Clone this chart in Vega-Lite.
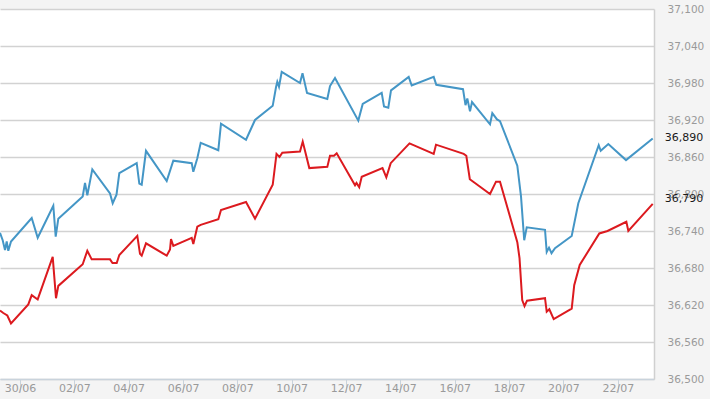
{
  "$schema": "https://vega.github.io/schema/vega-lite/v6.json",
  "autosize": "none",
  "width": 654,
  "height": 370,
  "padding": {"top": 9, "left": 0, "right": 56, "bottom": 20},
  "background": "#f4f4f4",
  "config": {
    "view": {"fill": "white", "stroke": null},
    "font": "DejaVu Sans"
  },
  "datasets": {
    "prices": [
      {"s":"Upper","t":"2023-06-29T06:20","v":36737},
      {"s":"Upper","t":"2023-06-29T08:43","v":36725},
      {"s":"Upper","t":"2023-06-29T10:45","v":36709},
      {"s":"Upper","t":"2023-06-29T12:15","v":36723},
      {"s":"Upper","t":"2023-06-29T13:40","v":36708},
      {"s":"Upper","t":"2023-06-29T16:03","v":36723},
      {"s":"Upper","t":"2023-06-30T10:20","v":36761},
      {"s":"Upper","t":"2023-06-30T15:38","v":36729},
      {"s":"Upper","t":"2023-07-01T05:25","v":36781},
      {"s":"Upper","t":"2023-07-01T07:32","v":36731},
      {"s":"Upper","t":"2023-07-01T09:50","v":36760},
      {"s":"Upper","t":"2023-07-02T07:23","v":36796},
      {"s":"Upper","t":"2023-07-02T09:25","v":36818},
      {"s":"Upper","t":"2023-07-02T11:27","v":36798},
      {"s":"Upper","t":"2023-07-02T15:52","v":36840},
      {"s":"Upper","t":"2023-07-03T07:30","v":36801},
      {"s":"Upper","t":"2023-07-03T09:53","v":36785},
      {"s":"Upper","t":"2023-07-03T13:14","v":36799},
      {"s":"Upper","t":"2023-07-03T15:43","v":36834},
      {"s":"Upper","t":"2023-07-04T07:05","v":36850},
      {"s":"Upper","t":"2023-07-04T09:23","v":36817},
      {"s":"Upper","t":"2023-07-04T11:30","v":36815},
      {"s":"Upper","t":"2023-07-04T15:18","v":36870},
      {"s":"Upper","t":"2023-07-05T09:35","v":36821},
      {"s":"Upper","t":"2023-07-05T15:25","v":36854},
      {"s":"Upper","t":"2023-07-06T07:40","v":36850},
      {"s":"Upper","t":"2023-07-06T09:05","v":36836},
      {"s":"Upper","t":"2023-07-06T12:37","v":36858},
      {"s":"Upper","t":"2023-07-06T15:37","v":36883},
      {"s":"Upper","t":"2023-07-07T07:10","v":36871},
      {"s":"Upper","t":"2023-07-07T09:32","v":36914},
      {"s":"Upper","t":"2023-07-08T07:38","v":36888},
      {"s":"Upper","t":"2023-07-08T15:35","v":36920},
      {"s":"Upper","t":"2023-07-09T07:13","v":36943},
      {"s":"Upper","t":"2023-07-09T10:07","v":36973},
      {"s":"Upper","t":"2023-07-09T11:16","v":36982},
      {"s":"Upper","t":"2023-07-09T12:46","v":36974},
      {"s":"Upper","t":"2023-07-09T15:10","v":36998},
      {"s":"Upper","t":"2023-07-10T07:19","v":36980},
      {"s":"Upper","t":"2023-07-10T09:32","v":36996},
      {"s":"Upper","t":"2023-07-10T13:31","v":36964},
      {"s":"Upper","t":"2023-07-11T07:26","v":36954},
      {"s":"Upper","t":"2023-07-11T09:49","v":36975},
      {"s":"Upper","t":"2023-07-11T14:14","v":36988},
      {"s":"Upper","t":"2023-07-12T10:49","v":36919},
      {"s":"Upper","t":"2023-07-12T14:43","v":36946},
      {"s":"Upper","t":"2023-07-13T07:29","v":36964},
      {"s":"Upper","t":"2023-07-13T09:31","v":36942},
      {"s":"Upper","t":"2023-07-13T13:19","v":36940},
      {"s":"Upper","t":"2023-07-13T15:42","v":36968},
      {"s":"Upper","t":"2023-07-14T07:20","v":36990},
      {"s":"Upper","t":"2023-07-14T09:59","v":36976},
      {"s":"Upper","t":"2023-07-15T05:25","v":36990},
      {"s":"Upper","t":"2023-07-15T07:43","v":36977},
      {"s":"Upper","t":"2023-07-16T07:18","v":36970},
      {"s":"Upper","t":"2023-07-16T09:31","v":36944},
      {"s":"Upper","t":"2023-07-16T11:06","v":36955},
      {"s":"Upper","t":"2023-07-16T13:29","v":36934},
      {"s":"Upper","t":"2023-07-16T15:15","v":36949},
      {"s":"Upper","t":"2023-07-17T07:09","v":36913},
      {"s":"Upper","t":"2023-07-17T09:11","v":36931},
      {"s":"Upper","t":"2023-07-17T13:20","v":36921},
      {"s":"Upper","t":"2023-07-17T15:59","v":36918},
      {"s":"Upper","t":"2023-07-18T07:16","v":36846},
      {"s":"Upper","t":"2023-07-18T10:32","v":36796},
      {"s":"Upper","t":"2023-07-18T13:22","v":36725},
      {"s":"Upper","t":"2023-07-18T15:34","v":36746},
      {"s":"Upper","t":"2023-07-19T07:44","v":36742},
      {"s":"Upper","t":"2023-07-19T09:14","v":36706},
      {"s":"Upper","t":"2023-07-19T11:16","v":36713},
      {"s":"Upper","t":"2023-07-19T13:29","v":36704},
      {"s":"Upper","t":"2023-07-19T16:34","v":36712},
      {"s":"Upper","t":"2023-07-20T07:19","v":36732},
      {"s":"Upper","t":"2023-07-20T13:09","v":36785},
      {"s":"Upper","t":"2023-07-21T07:10","v":36879},
      {"s":"Upper","t":"2023-07-21T08:56","v":36870},
      {"s":"Upper","t":"2023-07-21T15:39","v":36881},
      {"s":"Upper","t":"2023-07-22T07:17","v":36855},
      {"s":"Upper","t":"2023-07-23T06:52","v":36890},
      {"s":"Lower","t":"2023-06-29T06:20","v":36611},
      {"s":"Lower","t":"2023-06-29T09:15","v":36607},
      {"s":"Lower","t":"2023-06-29T12:47","v":36603},
      {"s":"Lower","t":"2023-06-29T16:03","v":36590},
      {"s":"Lower","t":"2023-06-30T07:20","v":36621},
      {"s":"Lower","t":"2023-06-30T10:20","v":36636},
      {"s":"Lower","t":"2023-06-30T15:38","v":36629},
      {"s":"Lower","t":"2023-07-01T04:53","v":36698},
      {"s":"Lower","t":"2023-07-01T07:48","v":36631},
      {"s":"Lower","t":"2023-07-01T09:50","v":36651},
      {"s":"Lower","t":"2023-07-02T07:23","v":36686},
      {"s":"Lower","t":"2023-07-02T11:27","v":36708},
      {"s":"Lower","t":"2023-07-02T15:20","v":36694},
      {"s":"Lower","t":"2023-07-03T07:30","v":36694},
      {"s":"Lower","t":"2023-07-03T09:42","v":36688},
      {"s":"Lower","t":"2023-07-03T13:25","v":36688},
      {"s":"Lower","t":"2023-07-03T15:43","v":36701},
      {"s":"Lower","t":"2023-07-04T07:37","v":36732},
      {"s":"Lower","t":"2023-07-04T10:00","v":36703},
      {"s":"Lower","t":"2023-07-04T11:30","v":36700},
      {"s":"Lower","t":"2023-07-04T15:18","v":36720},
      {"s":"Lower","t":"2023-07-05T09:35","v":36700},
      {"s":"Lower","t":"2023-07-05T12:30","v":36710},
      {"s":"Lower","t":"2023-07-05T13:23","v":36727},
      {"s":"Lower","t":"2023-07-05T15:25","v":36716},
      {"s":"Lower","t":"2023-07-06T07:40","v":36729},
      {"s":"Lower","t":"2023-07-06T09:05","v":36719},
      {"s":"Lower","t":"2023-07-06T12:37","v":36747},
      {"s":"Lower","t":"2023-07-06T15:37","v":36750},
      {"s":"Lower","t":"2023-07-07T07:10","v":36759},
      {"s":"Lower","t":"2023-07-07T09:32","v":36774},
      {"s":"Lower","t":"2023-07-08T07:38","v":36787},
      {"s":"Lower","t":"2023-07-08T15:35","v":36760},
      {"s":"Lower","t":"2023-07-09T07:13","v":36815},
      {"s":"Lower","t":"2023-07-09T10:34","v":36865},
      {"s":"Lower","t":"2023-07-09T13:13","v":36860},
      {"s":"Lower","t":"2023-07-09T15:41","v":36867},
      {"s":"Lower","t":"2023-07-10T07:19","v":36869},
      {"s":"Lower","t":"2023-07-10T09:43","v":36885},
      {"s":"Lower","t":"2023-07-10T15:32","v":36842},
      {"s":"Lower","t":"2023-07-11T07:26","v":36844},
      {"s":"Lower","t":"2023-07-11T09:49","v":36862},
      {"s":"Lower","t":"2023-07-11T13:22","v":36862},
      {"s":"Lower","t":"2023-07-11T15:44","v":36866},
      {"s":"Lower","t":"2023-07-12T07:55","v":36814},
      {"s":"Lower","t":"2023-07-12T09:14","v":36818},
      {"s":"Lower","t":"2023-07-12T11:37","v":36811},
      {"s":"Lower","t":"2023-07-12T13:50","v":36828},
      {"s":"Lower","t":"2023-07-13T08:12","v":36842},
      {"s":"Lower","t":"2023-07-13T11:34","v":36827},
      {"s":"Lower","t":"2023-07-13T15:26","v":36850},
      {"s":"Lower","t":"2023-07-14T08:03","v":36882},
      {"s":"Lower","t":"2023-07-15T05:25","v":36865},
      {"s":"Lower","t":"2023-07-15T07:27","v":36880},
      {"s":"Lower","t":"2023-07-16T07:55","v":36865},
      {"s":"Lower","t":"2023-07-16T10:13","v":36862},
      {"s":"Lower","t":"2023-07-16T13:19","v":36824},
      {"s":"Lower","t":"2023-07-17T07:09","v":36800},
      {"s":"Lower","t":"2023-07-17T12:27","v":36820},
      {"s":"Lower","t":"2023-07-17T15:59","v":36820},
      {"s":"Lower","t":"2023-07-18T07:16","v":36722},
      {"s":"Lower","t":"2023-07-18T09:13","v":36696},
      {"s":"Lower","t":"2023-07-18T11:36","v":36628},
      {"s":"Lower","t":"2023-07-18T13:38","v":36618},
      {"s":"Lower","t":"2023-07-18T15:50","v":36627},
      {"s":"Lower","t":"2023-07-19T07:44","v":36631},
      {"s":"Lower","t":"2023-07-19T09:14","v":36609},
      {"s":"Lower","t":"2023-07-19T11:32","v":36613},
      {"s":"Lower","t":"2023-07-19T15:25","v":36597},
      {"s":"Lower","t":"2023-07-20T07:19","v":36614},
      {"s":"Lower","t":"2023-07-20T09:32","v":36652},
      {"s":"Lower","t":"2023-07-20T14:23","v":36685},
      {"s":"Lower","t":"2023-07-21T07:42","v":36736},
      {"s":"Lower","t":"2023-07-21T14:56","v":36740},
      {"s":"Lower","t":"2023-07-22T07:34","v":36755},
      {"s":"Lower","t":"2023-07-22T09:20","v":36740},
      {"s":"Lower","t":"2023-07-23T06:52","v":36784}
    ],
    "labels": [
      {"s":"Upper","t":"2023-07-23T06:52","v":36890,"label":"36,890"},
      {"s":"Lower","t":"2023-07-23T06:52","v":36790,"label":"36,790"}
    ]
  },
  "layer": [
    {
      "data": {"name": "prices"},
      "mark": {"type": "line", "strokeWidth": 2, "interpolate": "linear"},
      "encoding": {
        "x": {
          "field": "t", "type": "temporal",
          "scale": {"domain": [{"year":2023,"month":6,"date":29,"hours":6,"minutes":20},{"year":2023,"month":7,"date":23,"hours":8}], "nice": false},
          "axis": {
            "title": null, "format": "%d/%m", "grid": false, "tickCount": 30,
            "values": [
              {"year":2023,"month":6,"date":30},
              {"year":2023,"month":7,"date":2},
              {"year":2023,"month":7,"date":4},
              {"year":2023,"month":7,"date":6},
              {"year":2023,"month":7,"date":8},
              {"year":2023,"month":7,"date":10},
              {"year":2023,"month":7,"date":12},
              {"year":2023,"month":7,"date":14},
              {"year":2023,"month":7,"date":16},
              {"year":2023,"month":7,"date":18},
              {"year":2023,"month":7,"date":20},
              {"year":2023,"month":7,"date":22}
            ],
            "domainColor": "#c9d3dc", "domainWidth": 1.5,
            "tickColor": "#c9d3dc", "tickSize": 13, "tickWidth": 1,
            "labelPadding": -10, "labelColor": "#9a9a9a", "labelFontSize": 11,
            "labelFont": "DejaVu Sans", "labelFlush": false, "labelOverlap": false
          }
        },
        "y": {
          "field": "v", "type": "quantitative",
          "scale": {"domain": [36500, 37100], "nice": false, "zero": false},
          "axis": {
            "orient": "right", "title": null, "format": ",.0f", "tickCount": 20,
            "values": [36500,36560,36620,36680,36740,36800,36860,36920,36980,37040,37100],
            "grid": true, "gridColor": "#d2d2d2", "gridWidth": 1.3,
            "ticks": false, "tickSize": 0,
            "domain": true, "domainColor": "#d0d0d0", "domainWidth": 1.5,
            "labelPadding": 13, "labelColor": "#9a9a9a", "labelFontSize": 10.5,
            "labelFont": "DejaVu Sans", "labelBaseline": "middle",
            "labelOverlap": false, "labelFlush": false
          }
        },
        "color": {
          "field": "s", "type": "nominal",
          "scale": {"domain": ["Upper", "Lower"], "range": ["#4496c6", "#dc1a1f"]},
          "legend": null
        }
      }
    },
    {
      "data": {"name": "labels"},
      "mark": {"type": "text", "align": "left", "baseline": "middle", "dx": 12, "dy": -1, "fontSize": 11, "font": "DejaVu Sans", "color": "#1a1a1a"},
      "encoding": {
        "x": {"field": "t", "type": "temporal"},
        "y": {"field": "v", "type": "quantitative"},
        "text": {"field": "label"}
      }
    }
  ]
}
